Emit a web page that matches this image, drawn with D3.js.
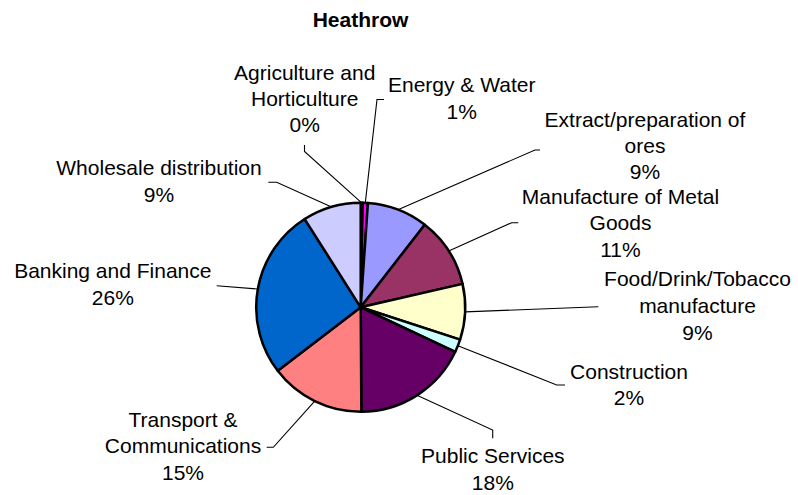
<!DOCTYPE html>
<html>
<head>
<meta charset="utf-8">
<script src="https://cdn.jsdelivr.net/npm/d3@7"></script>
<style>
  html, body { margin: 0; padding: 0; background: #fff; }
  svg { display: block; font-family: "Liberation Sans", Arial, sans-serif; }
</style>
</head>
<body>
<svg id="chart" width="798" height="495"></svg>
<script>
// Employment by sector, share of total (%)
const title = "Heathrow";
const categories = [
  "Agriculture and Horticulture",
  "Energy & Water",
  "Extract/preparation of ores",
  "Manufacture of Metal Goods",
  "Food/Drink/Tobacco manufacture",
  "Construction",
  "Public Services",
  "Transport & Communications",
  "Banking and Finance",
  "Wholesale distribution"
];
const values = [0.3, 0.8, 9.4, 10.9, 8.6, 2.0, 17.9, 14.7, 26.4, 9.0];
const colors = ["#000080", "#FF00FF", "#9999FF", "#993366", "#FFFFCC",
                "#CCFFFF", "#660066", "#FF8080", "#0066CC", "#CCCCFF"];

// How each category name wraps onto lines
const labelLines = [
  ["Agriculture and", "Horticulture"],
  ["Energy & Water"],
  ["Extract/preparation of", "ores"],
  ["Manufacture of Metal", "Goods"],
  ["Food/Drink/Tobacco", "manufacture"],
  ["Construction"],
  ["Public Services"],
  ["Transport &", "Communications"],
  ["Banking and Finance"],
  ["Wholesale distribution"]
];

// Label placement: text centre x, first baseline y, line gap, leader start and knee
const labelLayout = [
  { x: 304.7, y: 79.5,  gap: 26.3, lead: [304.5, 145,   304.5, 151.5] },
  { x: 461.7, y: 91.7,  gap: 26.8, lead: [384,   99.5,  377,   99.5] },
  { x: 645,   y: 126.5, gap: 26.3, lead: [540,   150,   535,   150] },
  { x: 620.5, y: 203.5, gap: 26.7, lead: [518.3, 222.7, 511.7, 222.7] },
  { x: 697.5, y: 285.7, gap: 27,   lead: [598.3, 306.7, 598.3, 306.7] },
  { x: 629,   y: 379.3, gap: 26,   lead: [565,   385,   556.7, 385] },
  { x: 492.8, y: 463.3, gap: 26.7, lead: [492.7, 438.3, 492.7, 430] },
  { x: 183,   y: 426.7, gap: 26.7, lead: [266.7, 447.3, 273.3, 447.3] },
  { x: 112.8, y: 278.3, gap: 26.7, lead: [216.7, 285.7, 216.7, 285.7] },
  { x: 159,   y: 175,   gap: 26.7, lead: [268.3, 182.3, 276.7, 182.3] }
];

const svg = d3.select("#chart");
const cx = 360.7, cy = 307.3, radius = 104.5;
const total = d3.sum(values);

svg.append("text")
  .attr("x", 360.5).attr("y", 27.3)
  .attr("text-anchor", "middle")
  .attr("font-size", 21).attr("font-weight", "bold")
  .attr("fill", "#000")
  .text(title);

const pie = d3.pie().sort(null).value(d => d)
  .startAngle(0).endAngle(2 * Math.PI);
const arcs = pie(values);
const arc = d3.arc().innerRadius(0).outerRadius(radius);
const rim = d3.arc().innerRadius(radius).outerRadius(radius);

const g = svg.append("g").attr("transform", `translate(${cx},${cy})`);

// Leader lines from each label to the rim at the slice's mid-angle
const leaders = svg.append("g");
arcs.forEach((a, i) => {
  const L = labelLayout[i].lead;
  const p = rim.centroid(a);
  leaders.append("polyline")
    .attr("points", [[L[0], L[1]], [L[2], L[3]], [cx + p[0], cy + p[1]]]
      .map(q => q.join(",")).join(" "))
    .attr("fill", "none")
    .attr("stroke", "#000")
    .attr("stroke-width", 1.1);
});

g.selectAll("path.slice")
  .data(arcs)
  .join("path")
  .attr("class", "slice")
  .attr("d", arc)
  .attr("fill", (d, i) => colors[i])
  .attr("stroke", "#000")
  .attr("stroke-width", 2.5)
  .attr("stroke-linejoin", "round");

// Category labels with percentage
const labels = svg.append("g")
  .attr("font-size", 21)
  .attr("fill", "#000")
  .attr("text-anchor", "middle");

categories.forEach((c, i) => {
  const lay = labelLayout[i];
  const lines = labelLines[i].concat([Math.round(values[i] / total * 100) + "%"]);
  const t = labels.append("text").attr("x", lay.x).attr("y", lay.y);
  lines.forEach((ln, k) => {
    t.append("tspan")
      .attr("x", lay.x)
      .attr("y", lay.y + k * lay.gap)
      .text(ln);
  });
});
</script>
</body>
</html>
